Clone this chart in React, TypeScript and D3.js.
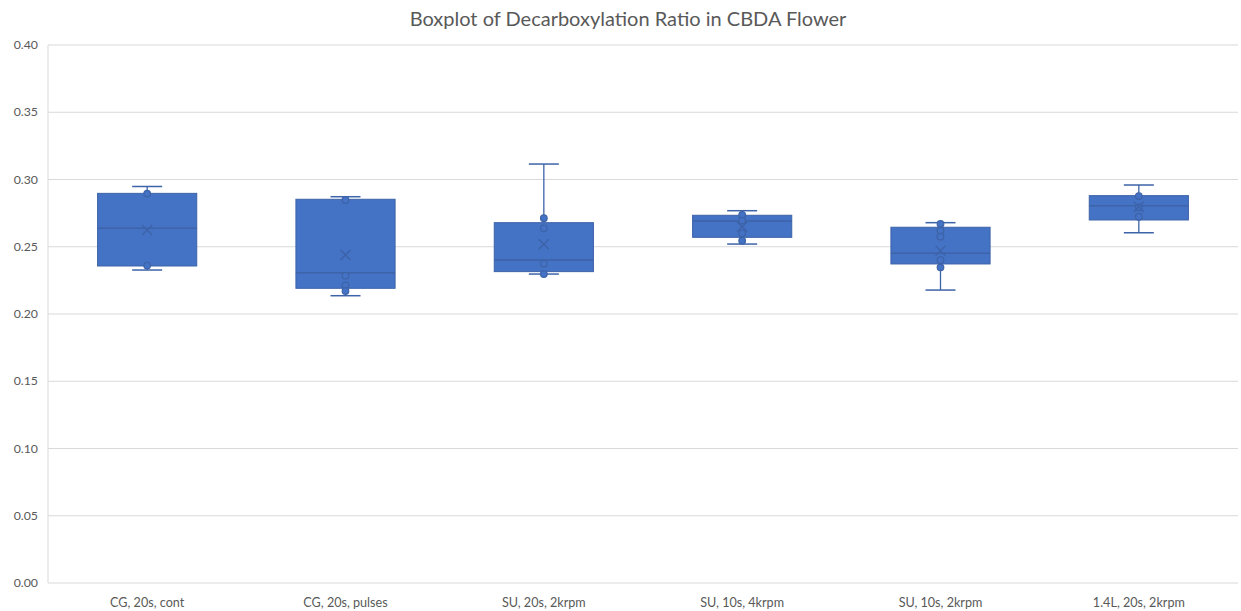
import React from "react";
import * as d3 from "d3";

const categories = ["CG, 20s, cont", "CG, 20s, pulses", "SU, 20s, 2krpm", "SU, 10s, 4krpm", "SU, 10s, 2krpm", "1.4L, 20s, 2krpm"];
const mins = [0.2327, 0.2136, 0.2297, 0.2520, 0.2178, 0.2604];
const q1s = [0.2357, 0.2191, 0.2315, 0.2570, 0.2372, 0.2699];
const medians = [0.2637, 0.2307, 0.2401, 0.2691, 0.2451, 0.2805];
const q3s = [0.2897, 0.2853, 0.2679, 0.2734, 0.2645, 0.2880];
const maxs = [0.2948, 0.2872, 0.3115, 0.2768, 0.2679, 0.2959];
const means = [0.2625, 0.2439, 0.2518, 0.2649, 0.2471, 0.2798];
const points = [
  [0.2895, 0.2360],
  [0.2848, 0.2285, 0.2213, 0.2171],
  [0.2712, 0.2637, 0.2374, 0.2297],
  [0.2736, 0.2694, 0.2600, 0.2545],
  [0.2669, 0.2620, 0.2575, 0.2401, 0.2347],
  [0.2877, 0.2793, 0.2723],
];
const yTicks = [0, 0.05, 0.1, 0.15, 0.2, 0.25, 0.3, 0.35, 0.4];
const title = "Boxplot of Decarboxylation Ratio in CBDA Flower";

const W = 1241, H = 611;
const left = 48, right = 1238, top = 45, bottom = 583;
const FONT = "Lato, 'Open Sans', sans-serif";
const BOX = "#4472C4";
const LINE = "#3D63A8";

export default function App() {
  const y = d3.scaleLinear().domain([0, 0.4]).range([bottom, top]);
  const x = d3.scaleBand<string>().domain(categories).range([left, right]).paddingInner(0.5).paddingOuter(0.25);
  const bw = x.bandwidth();
  const cap = 30;
  return (
    <div style={{ position: "absolute", left: 0, top: 0 }}>
      <svg width={W} height={H} style={{ display: "block", background: "#fff" }}>
        <text x={628} y={26} textAnchor="middle" fontFamily={FONT} fontSize={20} fill="#595959">{title}</text>
        {yTicks.map((t) => (
          <g key={t}>
            <line x1={left} x2={right} y1={y(t)} y2={y(t)} stroke="#d9d9d9" strokeWidth={1} />
            <text x={38} y={y(t) + 4} textAnchor="end" fontFamily={FONT} fontSize={12.3} fill="#595959">{t.toFixed(2)}</text>
          </g>
        ))}
        <line x1={left} x2={left} y1={top} y2={bottom} stroke="#d9d9d9" />
        {categories.map((c, i) => {
          const x0 = x(c)!;
          const cx = x0 + bw / 2;
          const m = y(means[i]);
          return (
            <g key={c}>
              <line x1={cx} x2={cx} y1={y(maxs[i])} y2={y(q3s[i])} stroke={LINE} strokeWidth={1.3} />
              <line x1={cx} x2={cx} y1={y(q1s[i])} y2={y(mins[i])} stroke={LINE} strokeWidth={1.3} />
              <line x1={cx - cap / 2} x2={cx + cap / 2} y1={y(maxs[i])} y2={y(maxs[i])} stroke={LINE} strokeWidth={1.5} />
              <line x1={cx - cap / 2} x2={cx + cap / 2} y1={y(mins[i])} y2={y(mins[i])} stroke={LINE} strokeWidth={1.5} />
              <rect x={x0} y={y(q3s[i])} width={bw} height={y(q1s[i]) - y(q3s[i])} fill={BOX} stroke={LINE} strokeWidth={1} />
              <line x1={x0} x2={x0 + bw} y1={y(medians[i])} y2={y(medians[i])} stroke={LINE} strokeWidth={1.5} />
              {points[i].map((p, j) => (
                <circle key={j} cx={cx} cy={y(p)} r={3.3} fill={BOX} stroke={LINE} strokeWidth={1.2} />
              ))}
              <path d={`M${cx - 5},${m - 5}L${cx + 5},${m + 5}M${cx - 5},${m + 5}L${cx + 5},${m - 5}`} stroke={LINE} strokeWidth={1.3} fill="none" />
              <text x={cx} y={607} textAnchor="middle" fontFamily={FONT} fontSize={12.6} fill="#595959">{c}</text>
            </g>
          );
        })}
      </svg>
    </div>
  );
}
